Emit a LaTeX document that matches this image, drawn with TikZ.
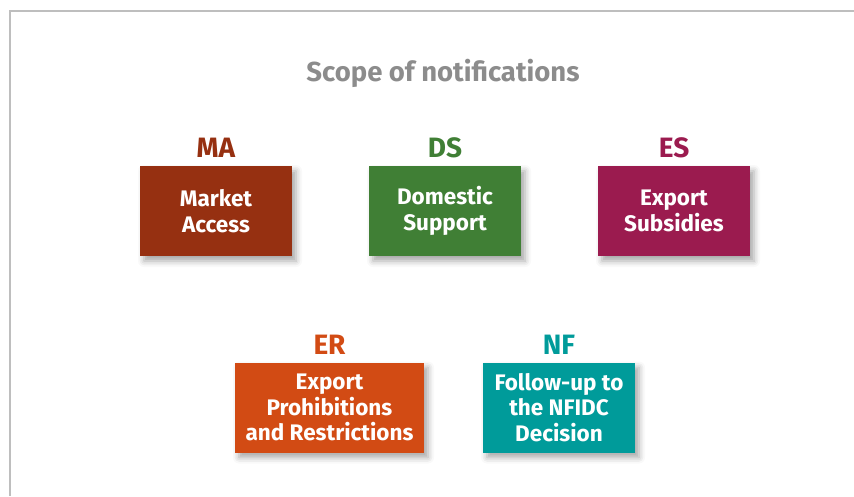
\documentclass[tikz,border=0pt]{standalone}
\usepackage{fontspec}
\setmainfont{Fira Sans}
\usepackage{tikz}
\usetikzlibrary{positioning, shadows.blur}
\definecolor{macol}{RGB}{150, 48, 17}
\definecolor{dscol}{RGB}{64, 127, 53}
\definecolor{escol}{RGB}{155, 27, 79}
\definecolor{ercol}{RGB}{210, 75, 20}
\definecolor{nfcol}{RGB}{0, 155, 154}
\definecolor{titlegray}{RGB}{140, 140, 140}
\definecolor{framegray}{RGB}{190, 190, 190}
\begin{document}
\begin{tikzpicture}[x=1pt, y=-1pt,
  box/.style = {minimum width=152pt, minimum height=90pt, inner sep=0pt, align=center,
    text=white, font=\fontsize{22.5}{25.5}\selectfont\bfseries,
    blur shadow={shadow xshift=4pt, shadow yshift=-5pt, shadow blur radius=6pt, shadow opacity=35}},
  tag/.style = {inner sep=0pt, font=\fontsize{28}{32}\selectfont\bfseries}]

\useasboundingbox (0,0) rectangle (854,496);
\draw[framegray, line width=1.2pt] (854,11) -- (10,11) -- (10,496);

\node[anchor=base, text=titlegray, font=\fontsize{27.5}{32}\selectfont\bfseries] (title) at (443,81) {Scope of notifications};

% first row
\node[box, fill=macol] (ma) at (216,211) {Market\\Access};
\node[box, fill=dscol] (ds) at (445,211) {Domestic\\Support};
\node[box, fill=escol] (es) at (674,211) {Export\\Subsidies};

% second row
\node[box, fill=ercol, minimum width=189pt] (er) at (329.5,407.5) {Export\\Prohibitions\\and Restrictions};
\node[box, fill=nfcol] (nf) at (559,407.5) {Follow-up to\\the NFIDC\\Decision};

\node[tag, text=macol, above=8pt of ma] (matag) {MA};
\node[tag, text=dscol, above=8pt of ds] (dstag) {DS};
\node[tag, text=escol, above=8pt of es] (estag) {ES};
\node[tag, text=ercol, above=8pt of er] (ertag) {ER};
\node[tag, text=nfcol, above=8pt of nf] (nftag) {NF};

\end{tikzpicture}
\end{document}
